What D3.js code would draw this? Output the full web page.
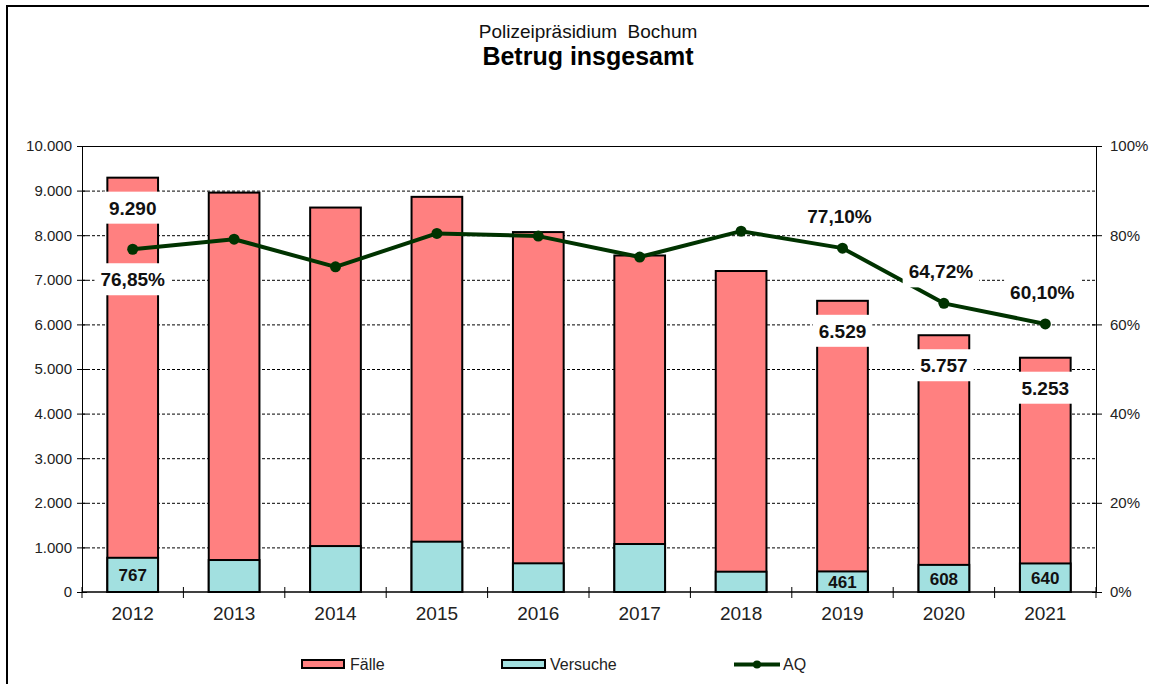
<!DOCTYPE html>
<html>
<head>
<meta charset="utf-8">
<script src="https://cdn.jsdelivr.net/npm/d3@7"></script>
<style>
  body { margin: 0; background: #fff; }
  svg { display: block; font-family: Arial, "Liberation Sans", sans-serif; }
</style>
</head>
<body>
<script>
var width = 1149, height = 684;

// data
var years = ['2012', '2013', '2014', '2015', '2016', '2017', '2018', '2019', '2020', '2021'];
var faelle = [9290, 8955, 8620, 8860, 8070, 7545, 7197, 6529, 5757, 5253];
var versuche = [767, 717, 1030, 1128, 643, 1076, 455, 461, 608, 640];
var aq = [76.85, 79.1, 72.9, 80.4, 79.8, 75.1, 80.9, 77.10, 64.72, 60.10];
var labelledYears = ['2012', '2019', '2020', '2021'];
var leftTicks = [0, 1000, 2000, 3000, 4000, 5000, 6000, 7000, 8000, 9000, 10000];
var rightTicks = [0, 20, 40, 60, 80, 100];

var locale = d3.formatLocale({ decimal: ',', thousands: '.', grouping: [3], currency: ['', ''] });
var fmtInt = locale.format(',d');
var fmtPct = locale.format('.2f');

var rows = years.map(function (y, i) {
  return { year: y, faelle: faelle[i], versuche: versuche[i], aq: aq[i], labelled: labelledYears.indexOf(y) >= 0 };
});

var plot = { left: 82, right: 1096, top: 146, bottom: 592 };

var x = d3.scaleBand().domain(years).range([plot.left, plot.right]).paddingInner(0.5).paddingOuter(0.25);
var y = d3.scaleLinear().domain([0, 10000]).range([plot.bottom, plot.top]);
var yr = d3.scaleLinear().domain([0, 100]).range([plot.bottom, plot.top]);

var svg = d3.select('body').append('svg').attr('width', width).attr('height', height);

// outer frame
svg.append('rect')
  .attr('x', 7).attr('y', 6).attr('width', 1200).attr('height', 720)
  .attr('fill', 'none').attr('stroke', '#000').attr('stroke-width', 2);

// titles
svg.append('text').attr('x', 588).attr('y', 38).attr('text-anchor', 'middle')
  .attr('font-size', 19).attr('fill', '#111').attr('xml:space', 'preserve')
  .text('Polizeipräsidium  Bochum');
svg.append('text').attr('x', 588).attr('y', 65).attr('text-anchor', 'middle')
  .attr('font-size', 25).attr('font-weight', 'bold').attr('fill', '#000')
  .text('Betrug insgesamt');

// gridlines
svg.append('g').selectAll('line')
  .data(leftTicks.filter(function (d) { return d > 0 && d < 10000; }))
  .enter().append('line')
  .attr('x1', plot.left).attr('x2', plot.right)
  .attr('y1', function (d) { return y(d) + 0.5; }).attr('y2', function (d) { return y(d) + 0.5; })
  .attr('stroke', '#000').attr('stroke-width', 1).attr('stroke-dasharray', '3,2');

svg.append('line')
  .attr('x1', plot.left).attr('x2', plot.right)
  .attr('y1', plot.top + 0.5).attr('y2', plot.top + 0.5)
  .attr('stroke', '#000').attr('stroke-width', 1);

// left axis
var leftAxis = svg.append('g').attr('transform', 'translate(' + plot.left + ',0)')
  .call(d3.axisLeft(y).tickValues(leftTicks).tickFormat(fmtInt).tickSize(5).tickPadding(5));
leftAxis.select('.domain').attr('stroke', '#000');
leftAxis.selectAll('.tick line').attr('x2', 5).attr('x1', -5);
leftAxis.selectAll('text').attr('font-size', 15).attr('fill', '#222')
  .attr('font-family', 'Arial, "Liberation Sans", sans-serif');

// right axis
var rightAxis = svg.append('g').attr('transform', 'translate(' + plot.right + ',0)')
  .call(d3.axisRight(yr).tickValues(rightTicks).tickFormat(function (d) { return d + '%'; }).tickSize(6).tickPadding(8));
rightAxis.select('.domain').attr('stroke', '#000');
rightAxis.selectAll('.tick line').attr('x1', -4).attr('x2', 6);
rightAxis.selectAll('text').attr('font-size', 15).attr('fill', '#222')
  .attr('font-family', 'Arial, "Liberation Sans", sans-serif');

// bars
var bars = svg.append('g');
bars.selectAll('rect.faelle').data(rows).enter().append('rect')
  .attr('class', 'faelle')
  .attr('x', function (d) { return x(d.year); })
  .attr('width', x.bandwidth())
  .attr('y', function (d) { return y(d.faelle); })
  .attr('height', function (d) { return y(0) - y(d.faelle); })
  .attr('fill', '#ff8080').attr('stroke', '#000').attr('stroke-width', 2);
bars.selectAll('rect.versuche').data(rows).enter().append('rect')
  .attr('class', 'versuche')
  .attr('x', function (d) { return x(d.year); })
  .attr('width', x.bandwidth())
  .attr('y', function (d) { return y(d.versuche); })
  .attr('height', function (d) { return y(0) - y(d.versuche); })
  .attr('fill', '#a2e0e0').attr('stroke', '#000').attr('stroke-width', 2);

// x axis line and ticks at category boundaries
svg.append('line')
  .attr('x1', plot.left).attr('x2', plot.right)
  .attr('y1', plot.bottom).attr('y2', plot.bottom)
  .attr('stroke', '#000').attr('stroke-width', 1.5);
var boundaries = years.map(function (yy) { return x(yy) - x.step() * 0.25; });
boundaries.push(plot.right);
svg.append('g').selectAll('line').data(boundaries).enter().append('line')
  .attr('x1', function (d) { return d; }).attr('x2', function (d) { return d; })
  .attr('y1', plot.bottom - 5).attr('y2', plot.bottom + 6)
  .attr('stroke', '#000').attr('stroke-width', 1);
svg.append('g').selectAll('text').data(years).enter().append('text')
  .attr('x', function (d) { return x(d) + x.bandwidth() / 2; })
  .attr('y', 620)
  .attr('text-anchor', 'middle').attr('font-size', 19).attr('fill', '#222')
  .text(function (d) { return d; });

// AQ line
var line = d3.line()
  .x(function (d) { return x(d.year) + x.bandwidth() / 2; })
  .y(function (d) { return yr(d.aq); });
svg.append('path').datum(rows).attr('d', line)
  .attr('fill', 'none').attr('stroke', '#003300').attr('stroke-width', 4).attr('stroke-linejoin', 'round');
svg.append('g').selectAll('circle').data(rows).enter().append('circle')
  .attr('cx', function (d) { return x(d.year) + x.bandwidth() / 2; })
  .attr('cy', function (d) { return yr(d.aq); })
  .attr('r', 5.5).attr('fill', '#003300');

// labels with white boxes
function boxLabel(g, cx, cy, txt, size) {
  var t = g.append('text').attr('x', cx).attr('y', cy).attr('dy', '0.36em')
    .attr('text-anchor', 'middle').attr('font-size', size).attr('font-weight', 'bold').attr('fill', '#111')
    .text(txt);
  var bb = t.node().getBBox();
  g.insert('rect', function () { return t.node(); })
    .attr('x', bb.x - 6).attr('y', cy - 16).attr('width', bb.width + 12).attr('height', 32)
    .attr('fill', '#fff');
}

var labels = svg.append('g');
rows.filter(function (d) { return d.labelled; }).forEach(function (d) {
  var cx = x(d.year) + x.bandwidth() / 2;
  boxLabel(labels, cx, y(d.faelle) + 30, fmtInt(d.faelle), 19);
  var below = d.year === '2012';
  boxLabel(labels, below ? cx : cx - 3, yr(d.aq) + (below ? 30 : -32), fmtPct(d.aq) + '%', 19);
  labels.append('text')
    .attr('x', cx).attr('y', (y(d.versuche) + y(0)) / 2).attr('dy', '0.36em')
    .attr('text-anchor', 'middle').attr('font-size', 17).attr('font-weight', 'bold').attr('fill', '#111')
    .text(fmtInt(d.versuche));
});

// legend
var legend = svg.append('g');
legend.append('rect').attr('x', 302).attr('y', 660).attr('width', 42).attr('height', 8)
  .attr('fill', '#ff8080').attr('stroke', '#000').attr('stroke-width', 2);
legend.append('text').attr('x', 350).attr('y', 670).attr('font-size', 16).attr('fill', '#222').text('Fälle');
legend.append('rect').attr('x', 502).attr('y', 660).attr('width', 43).attr('height', 8)
  .attr('fill', '#a2e0e0').attr('stroke', '#000').attr('stroke-width', 2);
legend.append('text').attr('x', 550).attr('y', 670).attr('font-size', 16).attr('fill', '#222').text('Versuche');
legend.append('line').attr('x1', 734).attr('x2', 780).attr('y1', 664.5).attr('y2', 664.5)
  .attr('stroke', '#003300').attr('stroke-width', 4);
legend.append('circle').attr('cx', 757).attr('cy', 664.5).attr('r', 4).attr('fill', '#003300');
legend.append('text').attr('x', 783).attr('y', 670).attr('font-size', 16).attr('fill', '#222').text('AQ');
</script>
</body>
</html>
